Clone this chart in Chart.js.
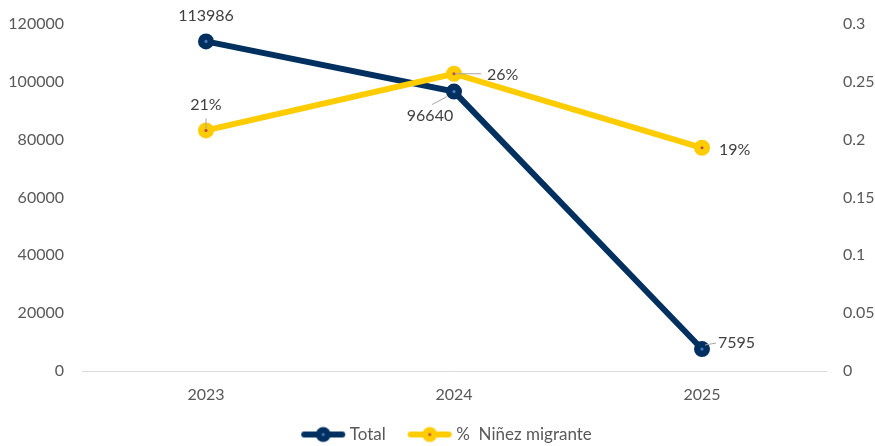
<!DOCTYPE html>
<html>
<head>
<meta charset="utf-8">
<script src="https://cdn.jsdelivr.net/npm/chart.js@4.4.1/dist/chart.umd.min.js"></script>
<style>
  html, body { margin: 0; padding: 0; background: #fff; }
  #wrap { width: 875px; height: 446px; position: relative; }
</style>
</head>
<body>
<div id="wrap"><canvas id="chart"></canvas></div>
<script>
// data
const years = ['2023', '2024', '2025'];
const totalValues = [113986, 96640, 7595];
const ninezShare = [0.208, 0.257, 0.193];
const totalLabels = ['113986', '96640', '7595'];
const ninezLabels = ['21%', '26%', '19%'];

const NAVY = '#00305f';
const GOLD = '#ffcc00';
const FONT = 'Lato, "Open Sans", sans-serif';

// label placement relative to each point: dx, dy, align, leader line [x1,y1,x2,y2]
const labelPos = [
  [
    { dx: 0, dy: -26, align: 'center' },
    { dx: -24, dy: 24, align: 'center', leader: [-7, 5, -22, 13] },
    { dx: 16, dy: -6, align: 'left', leader: [3, -4, 14, -6] },
  ],
  [
    { dx: 0, dy: -26, align: 'center', leader: [0, -2, 0, -12] },
    { dx: 33, dy: 1, align: 'left', leader: [1, 0, 27, 0] },
    { dx: 17, dy: 2, align: 'left' },
  ],
];

const markerDots = {
  id: 'markerDots',
  afterDatasetsDraw(chart) {
    const ctx = chart.ctx;
    const dotColors = ['#4a78c0', '#c0504d'];
    chart.data.datasets.forEach((ds, i) => {
      chart.getDatasetMeta(i).data.forEach((pt) => {
        ctx.beginPath();
        ctx.arc(pt.x, pt.y, 1.6, 0, Math.PI * 2);
        ctx.fillStyle = dotColors[i];
        ctx.fill();
      });
    });
  },
};

const dataLabels = {
  id: 'dataLabels',
  afterDraw(chart) {
    const ctx = chart.ctx;
    const texts = [totalLabels, ninezLabels];
    ctx.save();
    ctx.font = '16px ' + FONT;
    ctx.fillStyle = '#404040';
    ctx.textBaseline = 'middle';
    chart.data.datasets.forEach((ds, i) => {
      chart.getDatasetMeta(i).data.forEach((pt, j) => {
        const p = labelPos[i][j];
        if (p.leader) {
          ctx.beginPath();
          ctx.moveTo(pt.x + p.leader[0], pt.y + p.leader[1]);
          ctx.lineTo(pt.x + p.leader[2], pt.y + p.leader[3]);
          ctx.strokeStyle = '#a6a6a6';
          ctx.lineWidth = 1;
          ctx.stroke();
        }
        ctx.textAlign = p.align;
        ctx.fillText(texts[i][j], pt.x + p.dx, pt.y + p.dy);
      });
    });
    ctx.restore();
  },
};

// legend swatch: line with marker, drawn at the right end of a wider canvas
function legendIcon(color, dot) {
  const c = document.createElement('canvas');
  c.width = 68;
  c.height = 18;
  const g = c.getContext('2d');
  const x0 = 68 - 46;
  g.strokeStyle = color;
  g.lineWidth = 6;
  g.lineCap = 'round';
  g.beginPath();
  g.moveTo(x0 + 4, 9);
  g.lineTo(x0 + 42, 9);
  g.stroke();
  g.beginPath();
  g.arc(x0 + 23, 9, 7.5, 0, Math.PI * 2);
  g.fillStyle = color;
  g.fill();
  g.beginPath();
  g.arc(x0 + 23, 9, 1.6, 0, Math.PI * 2);
  g.fillStyle = dot;
  g.fill();
  return c;
}
const legendIcons = [legendIcon(NAVY, '#4a78c0'), legendIcon(GOLD, '#c0504d')];

const trimTop = (scale) => { scale.paddingTop = 0; };

new Chart(document.getElementById('chart'), {
  type: 'line',
  data: {
    labels: years,
    datasets: [
      {
        label: 'Total',
        data: totalValues,
        yAxisID: 'y',
        borderColor: NAVY,
        backgroundColor: NAVY,
        borderWidth: 6,
        pointStyle: 'circle',
        pointRadius: 7,
        pointBorderWidth: 2,
        pointBackgroundColor: NAVY,
        pointBorderColor: NAVY,
        order: 1,
      },
      {
        label: '%  Niñez migrante',
        data: ninezShare,
        yAxisID: 'y1',
        borderColor: GOLD,
        backgroundColor: GOLD,
        borderWidth: 6,
        pointStyle: 'circle',
        pointRadius: 7,
        pointBorderWidth: 2,
        pointBackgroundColor: GOLD,
        pointBorderColor: GOLD,
        order: 0,
      },
    ],
  },
  options: {
    responsive: true,
    maintainAspectRatio: false,
    animation: false,
    layout: { padding: { top: 24, left: 0, right: 0, bottom: -7 } },
    plugins: {
      tooltip: { enabled: false },
      legend: {
        position: 'bottom',
        labels: {
          usePointStyle: true,
          pointStyleWidth: 58,
          color: '#595959',
          font: { family: FONT, size: 17 },
          padding: 4,
          sort: (a, b) => a.datasetIndex - b.datasetIndex,
          generateLabels: (chart) => {
            const items = Chart.defaults.plugins.legend.labels.generateLabels(chart);
            items.forEach((it) => { it.pointStyle = legendIcons[it.datasetIndex]; });
            return items;
          },
        },
      },
    },
    scales: {
      x: {
        offset: true,
        grid: { display: false, drawTicks: false },
        border: { display: true, color: '#d9d9d9', width: 1 },
        ticks: { color: '#595959', font: { family: FONT, size: 16 }, padding: 14 },
        afterFit: (scale) => { scale.height = 51; },
      },
      y: {
        position: 'left',
        min: 0,
        max: 120000,
        grid: { display: false, drawTicks: false },
        border: { display: false },
        ticks: {
          stepSize: 20000,
          color: '#595959',
          font: { family: FONT, size: 16 },
          padding: 18,
          callback: (v) => String(v),
        },
        afterFit: (scale) => { scale.width = 82; trimTop(scale); },
      },
      y1: {
        position: 'right',
        min: 0,
        max: 0.3,
        grid: { display: false, drawTicks: false },
        border: { display: false },
        ticks: {
          stepSize: 0.05,
          color: '#595959',
          font: { family: FONT, size: 16 },
          padding: 17,
          callback: (v) => String(+v.toFixed(2)),
        },
        afterFit: (scale) => { scale.width = 49; trimTop(scale); },
      },
    },
  },
  plugins: [markerDots, dataLabels],
});
</script>
</body>
</html>
